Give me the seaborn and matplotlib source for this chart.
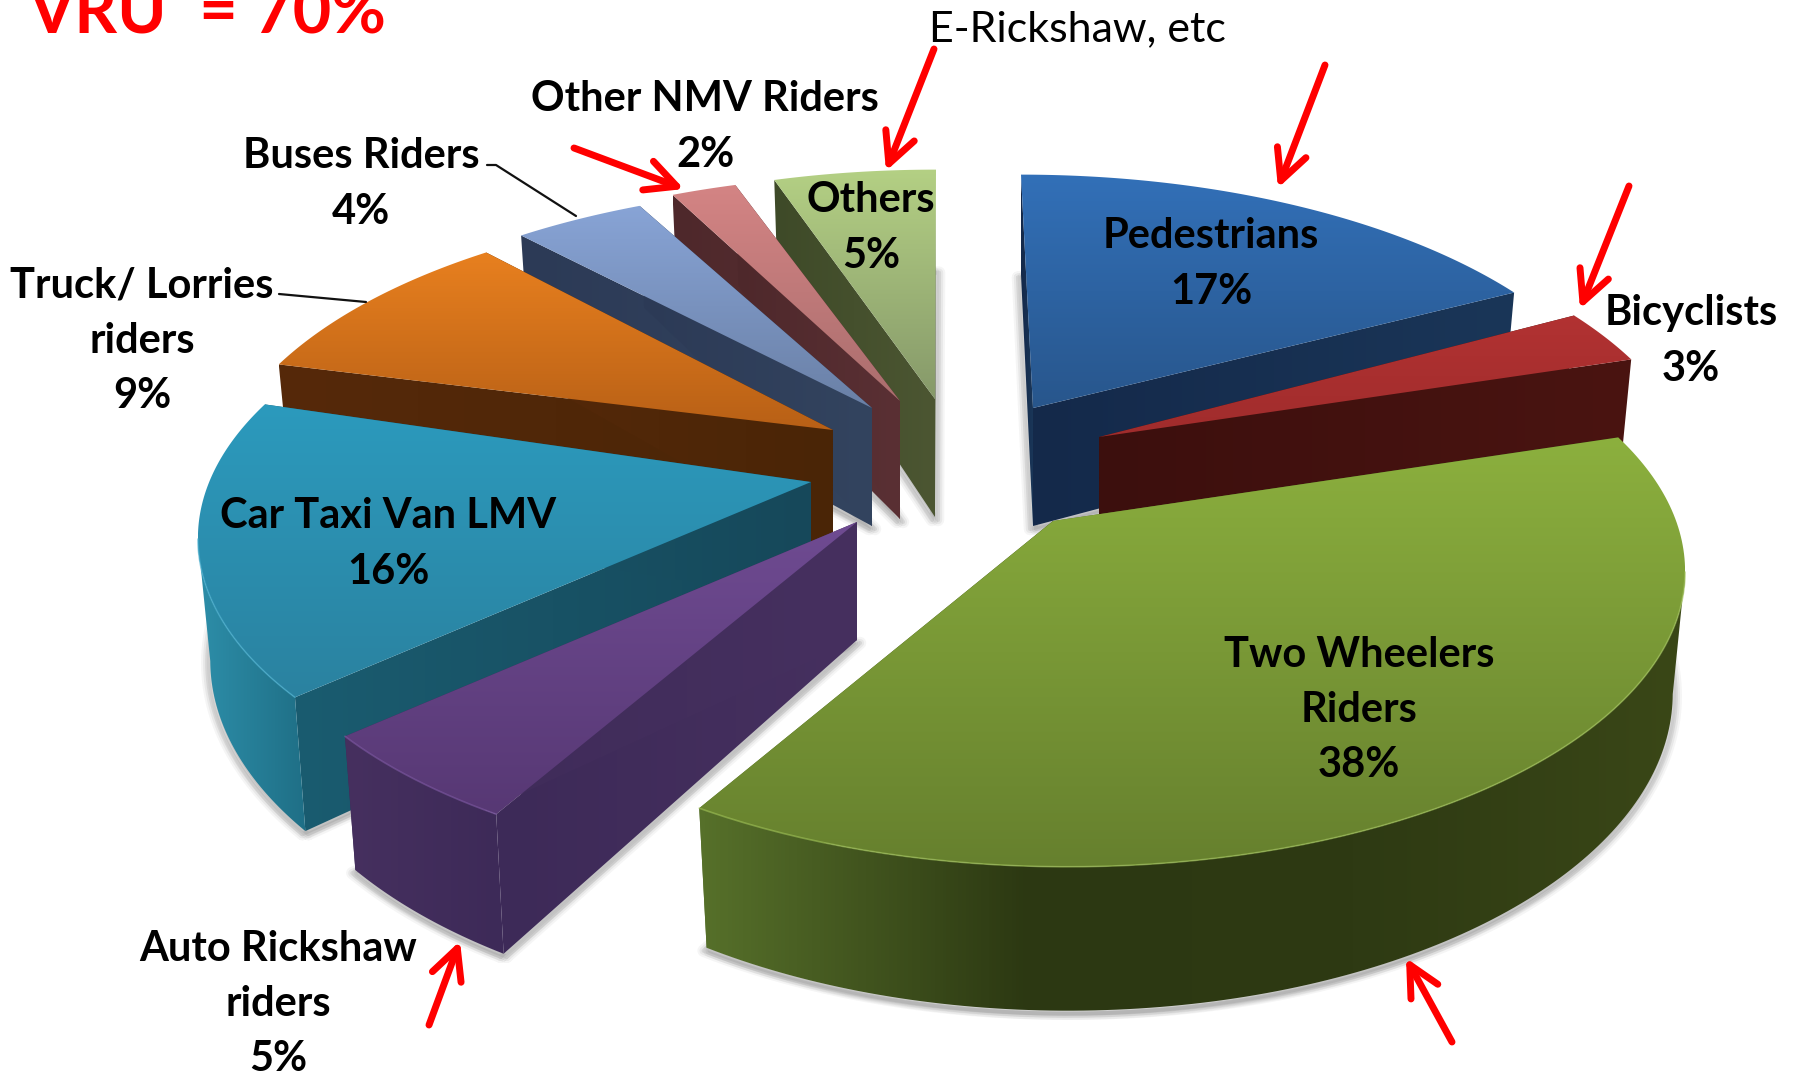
import numpy as np
import seaborn as sns
import matplotlib.pyplot as plt
from matplotlib.patches import Polygon

categories = ['Pedestrians', 'Bicyclists', 'Two Wheelers\nRiders', 'Auto Rickshaw\nriders',
              'Car Taxi Van LMV', 'Truck/ Lorries\nriders', 'Buses Riders', 'Other NMV Riders', 'Others']
shares = [17, 3, 38, 5, 16, 9, 4, 2, 5]

# centre of each slice's outer arc, and where its tip really lands on the page
centers = [(1021, 417), (1081, 440), (1068, 518), (865, 524), (815, 485),
           (829, 445), (864, 428), (897, 417), (936, 412)]
tips = [(1033, 408), (1099, 437), (1053, 521), (857, 522), (811, 482),
        (833, 430), (872, 408), (900, 401), (935, 399)]
label_pos = [(1211, 264), (1691, 341), (1359, 710), (278, 1004), (388, 544),
             (142, 341), (361, 184), (705, 127), (871, 228)]
draw_order = [8, 7, 6, 0, 5, 4, 3, 1, 2]

top_colors = [('#3270b8', '#28568c'), ('#b23232', '#a02c2c'), ('#8cb03e', '#66802e'),
              ('#6f4b92', '#573874'), ('#2c9abd', '#2a82a0'), ('#e8801f', '#b86016'),
              ('#88a4d6', '#6a80a6'), ('#d48484', '#aa6e6e'), ('#b4d084', '#86996a')]
side_colors = [('#14294a', '#1a3658'), ('#3c0f0d', '#4a1411'), ('#56702a', '#2c3812'),
               ('#3d2a58', '#46305f'), ('#1a5c70', '#16485a'), ('#56290a', '#4a2506'),
               ('#2c3a56', '#33445f'), ('#4e282b', '#5a3034'), ('#3e4a28', '#4c5632')]
rim_colors = [('#1d3f68', '#1a3a60'), ('#4a1411', '#4a1411'), ('#56702a', '#2c3812', '#2e3a13', '#3a4717'),
              ('#46305f', '#3d2a58'), ('#2d8ea9', '#1f6f86'), ('#56290a', '#56290a'),
              ('#2c3a56', '#2c3a56'), ('#5a3034', '#5a3034'), ('#4c5632', '#4c5632')]
bevel_colors = ['#4a84c4', '#c04a4a', '#a0c258', '#7f5aa4', '#4ab0d0', '#f09a4a', '#9cb4e0', '#e09c9c', '#c4dc9c']

RX, RY, PERSP, DEPTH, LEAN = 607, 286, 0.18, 118, 0.02

sns.set_theme(style='white')
plt.rcParams['font.family'] = ['Lato', 'DejaVu Sans']

fig = plt.figure(figsize=(17.95, 10.75), dpi=100)
ax = fig.add_axes([0, 0, 1, 1])


def project(theta, center, bottom=False):
    gx, gy = np.sin(theta), np.cos(theta)
    s = 1 / (1 + PERSP * gy)
    dx, dy = RX * gx * s, -RY * gy * s
    if bottom:
        return np.column_stack([center[0] + dx * (1 - LEAN), center[1] + dy + DEPTH * s])
    return np.column_stack([center[0] + dx, center[1] + dy])


def fill(pts, colors, z, horizontal=False):
    pts = np.asarray(pts)
    cmap = sns.blend_palette(colors, as_cmap=True)
    grad = np.linspace(0, 1, 256)
    grad = grad[None, :] if horizontal else grad[:, None]
    im = ax.imshow(grad, cmap=cmap, aspect='auto', zorder=z, interpolation='bilinear',
                   extent=(pts[:, 0].min(), pts[:, 0].max(), pts[:, 1].max(), pts[:, 1].min()))
    im.set_clip_path(Polygon(pts, closed=True, transform=ax.transData))


edges = np.cumsum([0] + shares) / sum(shares) * 2 * np.pi
z = 2
for i in draw_order:
    center = centers[i]
    theta = np.linspace(edges[i], edges[i + 1], 160)
    top_arc = project(theta, center)
    low_arc = project(theta, center, bottom=True)
    tip_top = np.array([tips[i]])
    tip_low = np.array([[tips[i][0], tips[i][1] + DEPTH]])

    # soft shadow round the slice, both sides
    outline = np.vstack([low_arc, tip_low, low_arc[:1]])
    for shift in (-3, 3):
        for lw, alpha in [(9, 0.05), (6, 0.07), (3, 0.1)]:
            ax.plot(outline[:, 0] + shift, outline[:, 1] + 3, color='#404040', lw=lw, alpha=alpha,
                    zorder=z, solid_capstyle='round')
    z += 1

    # cut faces, then the part of the rim that faces the viewer, then the top
    for arc_t, arc_b in [(top_arc[:1], low_arc[:1]), (top_arc[-1:], low_arc[-1:])]:
        fill(np.vstack([arc_t, tip_top, tip_low, arc_b]), side_colors[i], z, horizontal=True)
        z += 1
    front = np.cos(theta) < -PERSP
    if front.sum() > 1:
        fill(np.vstack([top_arc[front], low_arc[front][::-1]]), rim_colors[i], z, horizontal=True)
        z += 1
    fill(np.vstack([tip_top, top_arc]), top_colors[i], z)
    z += 1
    if front.sum() > 1:
        ax.plot(top_arc[front, 0], top_arc[front, 1], color=bevel_colors[i], lw=1.2, alpha=0.6, zorder=z)
        z += 1

for name, share, (x, y) in zip(categories, shares, label_pos):
    ax.text(x, y, f'{name}\n{share}%', ha='center', va='center', ma='center', fontsize=30,
            fontweight='bold', color='black', linespacing=1.55, zorder=z)

ax.text(28, 34, 'VRU  = 70%', color='#ff0000', fontsize=48, fontweight='bold', va='baseline', zorder=z)
ax.text(929, 41, 'E-Rickshaw, etc', color='black', fontsize=31, va='baseline', zorder=z)

# leader lines
ax.plot([487, 496, 576], [165, 165, 216], color='#111111', lw=1.6, zorder=z)
ax.plot([279, 366], [294, 302], color='#111111', lw=1.6, zorder=z)

# hand drawn red arrows
for start, end in [((934, 49), (886, 171)), ((1325, 65), (1278, 188)), ((1629, 186), (1580, 309)),
                   ((574, 148), (684, 189)), ((429, 1025), (460, 941)), ((1452, 1042), (1406, 958))]:
    ax.annotate('', xy=end, xytext=start, zorder=z + 1,
                arrowprops=dict(arrowstyle='->,head_length=1.0,head_width=0.5', color='#ff0000', lw=5,
                                mutation_scale=22, shrinkA=0, shrinkB=0))

ax.set_xlim(0, 1795)
ax.set_ylim(1075, 0)
ax.axis('off')
fig.savefig('out.png', dpi=100, facecolor='white')
